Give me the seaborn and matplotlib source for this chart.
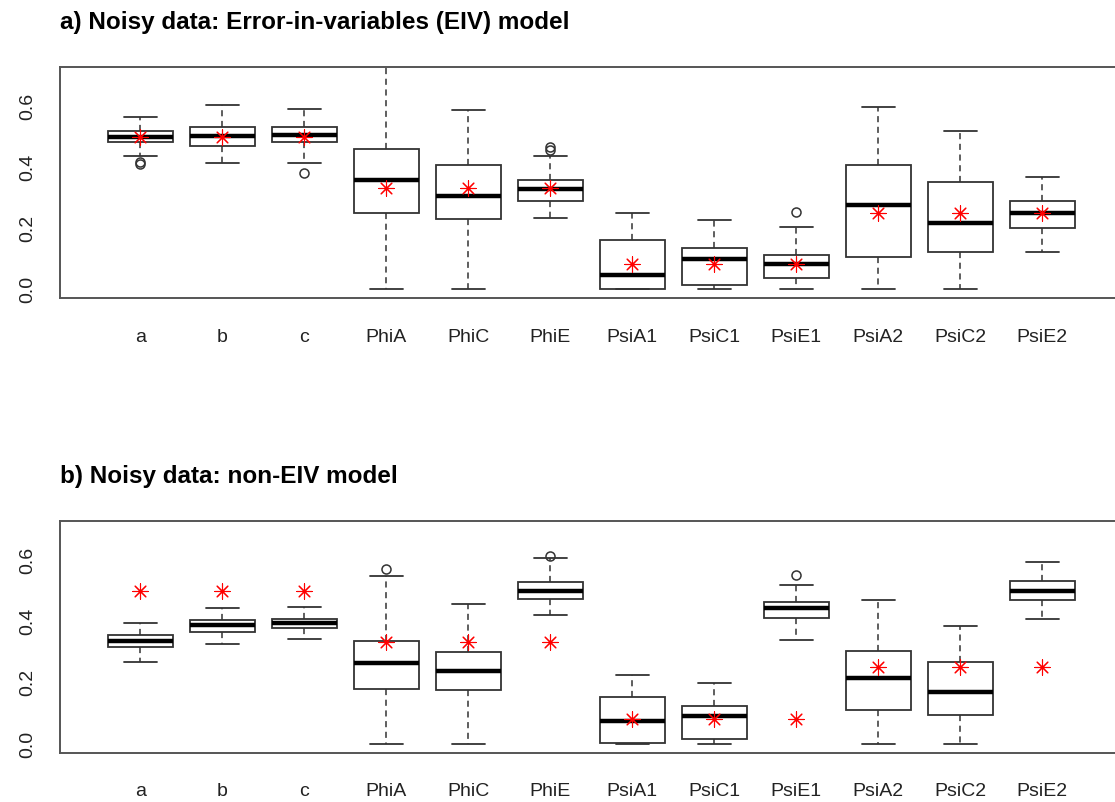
import numpy as np
import pandas as pd
import matplotlib
matplotlib.use("Agg")
import matplotlib.pyplot as plt
import matplotlib.transforms as mtransforms
import seaborn as sns

# parameter names and the true values (red stars)
params = ["a", "b", "c", "PhiA", "PhiC", "PhiE",
          "PsiA1", "PsiC1", "PsiE1", "PsiA2", "PsiC2", "PsiE2"]
true_values = [0.5, 0.5, 0.5, 1 / 3, 1 / 3, 1 / 3,
               1 / 12, 1 / 12, 1 / 12, 0.25, 0.25, 0.25]

# a) EIV model: box statistics
eiv_low = [0.436, 0.415, 0.415, 0.0, 0.0, 0.235, 0.0, 0.0, 0.0, 0.0, 0.0, 0.123]
eiv_q1 = [0.481, 0.468, 0.481, 0.251, 0.229, 0.291, 0.0, 0.016, 0.036, 0.107, 0.123, 0.201]
eiv_med = [0.498, 0.502, 0.506, 0.359, 0.305, 0.329, 0.046, 0.100, 0.083, 0.276, 0.217, 0.251]
eiv_q3 = [0.518, 0.530, 0.530, 0.461, 0.408, 0.359, 0.161, 0.136, 0.112, 0.408, 0.353, 0.288]
eiv_high = [0.563, 0.605, 0.592, 0.76, 0.588, 0.436, 0.251, 0.226, 0.206, 0.597, 0.518, 0.369]
eiv_out = [[0.418, 0.412], [], [0.382], [], [], [0.465, 0.457],
           [], [], [0.255], [], [], []]

# b) non-EIV model
noeiv_low = [0.268, 0.326, 0.342, 0.0, 0.0, 0.421, 0.0, 0.0, 0.338, 0.0, 0.0, 0.409]
noeiv_q1 = [0.317, 0.366, 0.379, 0.178, 0.177, 0.474, 0.003, 0.016, 0.412, 0.111, 0.095, 0.470]
noeiv_med = [0.335, 0.389, 0.394, 0.264, 0.239, 0.500, 0.074, 0.090, 0.442, 0.215, 0.169, 0.500]
noeiv_q3 = [0.354, 0.405, 0.409, 0.335, 0.301, 0.529, 0.153, 0.124, 0.462, 0.305, 0.268, 0.532]
noeiv_high = [0.396, 0.442, 0.446, 0.548, 0.458, 0.606, 0.224, 0.198, 0.520, 0.471, 0.384, 0.594]
noeiv_out = [[], [], [], [0.569], [], [0.612], [], [], [0.550], [], [], []]

sns.set_style("white")
plt.rcParams["font.family"] = ["Liberation Sans", "DejaVu Sans"]

LINE = "#333333"


def box_stats(low, q1, med, q3, high, out):
    stats = []
    for i in range(len(params)):
        stats.append(dict(label=params[i], whislo=low[i], q1=q1[i], med=med[i],
                          q3=q3[i], whishi=high[i], fliers=out[i]))
    return stats


def draw_panel(ax, stats, title):
    pos = np.arange(len(params))
    ax.bxp(stats, positions=pos, widths=0.8, capwidths=0.4, patch_artist=True,
           boxprops=dict(facecolor="white", edgecolor=LINE, linewidth=1.3),
           medianprops=dict(color="black", linewidth=3.2, solid_capstyle="butt"),
           whiskerprops=dict(color=LINE, linewidth=1.1, linestyle=(0, (4, 3))),
           capprops=dict(color=LINE, linewidth=1.3),
           flierprops=dict(marker="o", markerfacecolor="none",
                           markeredgecolor=LINE, markersize=6.5, markeredgewidth=1.1))

    # true values as red asterisks
    truth = pd.DataFrame({"pos": pos, "truth": true_values})
    sns.scatterplot(data=truth, x="pos", y="truth", marker=(8, 2, 0), s=120,
                    color="red", linewidth=0.8, ax=ax, zorder=5, legend=False)

    ax.set_xlim(-0.98, 11.98)
    ax.set_ylim(-0.028, 0.728)
    ax.set_xticks(pos)
    ax.set_xticklabels(params)
    ax.set_yticks(np.arange(0, 0.75, 0.1))
    ax.set_yticklabels(["0.0", "", "0.2", "", "0.4", "", "0.6", ""])
    ax.tick_params(axis="both", length=8, width=1.1, color=LINE, labelsize=14,
                   labelcolor="#222222")
    ax.tick_params(axis="x", pad=14)
    ax.tick_params(axis="y", pad=9, labelrotation=90)
    for lab in ax.get_yticklabels():
        lab.set_va("center")
    ax.set_xlabel("")
    ax.set_ylabel("")
    for sp in ax.spines.values():
        sp.set_color("#555555")
        sp.set_linewidth(1.4)

    # left-aligned bold title above the box
    offset = mtransforms.ScaledTranslation(0, 38 / 100, ax.figure.dpi_scale_trans)
    ax.text(0, 1, title, transform=ax.transAxes + offset, fontsize=17.5,
            fontweight="bold", color="black", ha="left", va="baseline")


fig = plt.figure(figsize=(11.15, 8.02), dpi=100)
W, H = 1115, 802
ax_a = fig.add_axes([60 / W, 1 - 298 / H, 1062.7 / W, 231 / H])
ax_b = fig.add_axes([60 / W, 1 - 752.7 / H, 1062.7 / W, 232 / H])

draw_panel(ax_a, box_stats(eiv_low, eiv_q1, eiv_med, eiv_q3, eiv_high, eiv_out),
           "a) Noisy data: Error-in-variables (EIV) model")
draw_panel(ax_b, box_stats(noeiv_low, noeiv_q1, noeiv_med, noeiv_q3, noeiv_high, noeiv_out),
           "b) Noisy data: non-EIV model")

fig.savefig("out.png", dpi=100)
